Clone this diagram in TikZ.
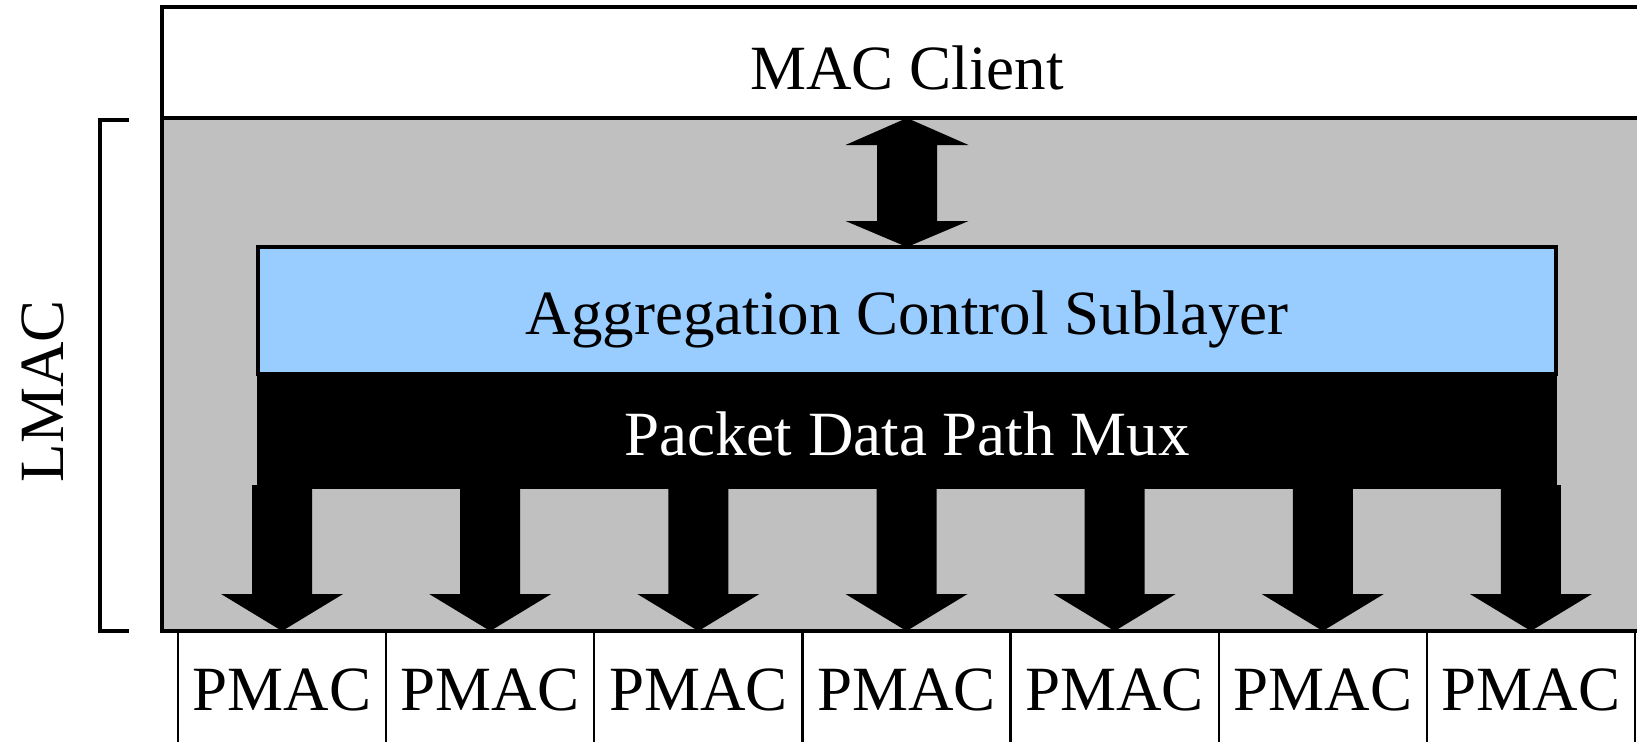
\documentclass[tikz,border=0pt]{standalone}
\usepackage{fontspec}
\setmainfont{Liberation Serif}
\usetikzlibrary{calc}
\definecolor{lgray}{RGB}{192,192,192}
\definecolor{lblue}{RGB}{153,204,255}
\tikzset{
  box/.style={draw=black, line width=1.7pt, inner sep=0pt, outer sep=0pt},
  pmacbox/.style={draw=black, fill=white, line width=1.1pt, inner sep=0pt, outer sep=0pt,
    minimum width=104.07pt, minimum height=64.5pt},
  lbl/.style={inner sep=0pt, anchor=base, font=\fontsize{31.5}{36}\selectfont},
  blockarrow/.style={fill=black, draw=none},
}
\begin{document}
\begin{tikzpicture}[x=0.5pt, y=-0.5pt]
\useasboundingbox (0,0) rectangle (1637,741);
% LMAC gray area
\node[box, fill=lgray, minimum width=745pt, minimum height=256.5pt] (lmac) at (907,374.5) {};
% MAC client
\node[box, fill=white, minimum width=745pt, minimum height=55.5pt] (client) at (907,62.5) {};
% Aggregation control sublayer
\node[box, fill=lblue, minimum width=649pt, minimum height=63.5pt] (acs) at (907,310.5) {};
% Mux
\node[fill=black, inner sep=0pt, outer sep=0pt, minimum width=650pt, minimum height=57.5pt] (mux) at (907,431.5) {};
% PMAC boxes
\foreach \i in {1,...,7} {
  \node[pmacbox] (p\i) at ({282.07+208.14*(\i-1)},695.5) {};
}
% down arrows
\foreach \i in {1,...,7} {
  \fill[blockarrow] ($(p\i.north)+(-30,-146)$) -- ($(p\i.north)+(30,-146)$)
    -- ($(p\i.north)+(30,-37)$) -- ($(p\i.north)+(61,-37)$) -- (p\i.north)
    -- ($(p\i.north)+(-61,-37)$) -- ($(p\i.north)+(-30,-37)$) -- cycle;
}
% double arrow
\fill[blockarrow] (client.south) -- ($(client.south)+(61.5,27)$) -- ($(client.south)+(30,27)$)
  -- ($(acs.north)+(30,-26)$) -- ($(acs.north)+(61.5,-26)$) -- (acs.north)
  -- ($(acs.north)+(-61.5,-26)$) -- ($(acs.north)+(-30,-26)$)
  -- ($(client.south)+(-30,27)$) -- ($(client.south)+(-61.5,27)$) -- cycle;
% redraw borders on top
\draw[line width=1.7pt] (lmac.north west) -- (lmac.north east);
\draw[line width=1.7pt] (lmac.south west) -- (lmac.south east);
% bracket
\coordinate (bt) at (129,120);
\coordinate (bb) at (129,631);
\draw[line width=1.6pt] (bt) -- (100,120) -- (100,631) -- (bb);
% texts
\node[lbl] (tclient) at (907,89) {MAC Client};
\node[lbl] (tacs) at (907,334) {Aggregation Control Sublayer};
\node[lbl, text=white] (tmux) at (907,455) {Packet Data Path Mux};
\foreach \i in {1,...,7} {
  \node[lbl] (tp\i) at ({282.07+208.14*(\i-1)},710) {PMAC};
}
\node[lbl, rotate=90] (tlmac) at (63,391) {LMAC};
\end{tikzpicture}
\end{document}
